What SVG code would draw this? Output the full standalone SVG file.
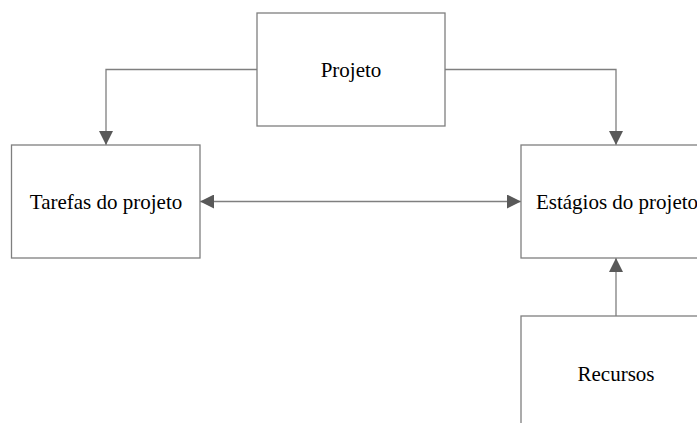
<svg xmlns="http://www.w3.org/2000/svg" width="697" height="423" viewBox="0 0 697 423">
  <style>
    .box { fill: #ffffff; stroke: #7f7f7f; stroke-width: 1.3; }
    .lbl { font-family: "Liberation Serif", "Times New Roman", serif; font-size: 21px; fill: #000000; text-anchor: middle; dominant-baseline: central; }
    .wire { fill: none; stroke: #7f7f7f; stroke-width: 1.3; }
  </style>
  <defs>
    <marker id="arrow" viewBox="0 0 14 14" refX="14" refY="7" markerWidth="14" markerHeight="14" markerUnits="userSpaceOnUse" orient="auto-start-reverse">
      <path d="M0,0 L14,7 L0,14 Z" fill="#595959"/>
    </marker>
  </defs>
  <rect width="697" height="423" fill="#ffffff"/>

  <g id="connectors">
    <path class="wire" d="M257,69.5 H106 V145" marker-end="url(#arrow)"/>
    <path class="wire" d="M445,69.5 H616 V145" marker-end="url(#arrow)"/>
    <path class="wire" d="M200,201.5 H521" marker-start="url(#arrow)" marker-end="url(#arrow)"/>
    <path class="wire" d="M616,316 V258" marker-end="url(#arrow)"/>
  </g>

  <g id="projeto">
    <rect class="box" x="257" y="13" width="188" height="113"/>
    <text class="lbl" x="351" y="70">Projeto</text>
  </g>
  <g id="tarefas">
    <rect class="box" x="11.5" y="145" width="188.5" height="113"/>
    <text class="lbl" x="106" y="202">Tarefas do projeto</text>
  </g>
  <g id="estagios">
    <rect class="box" x="521" y="145" width="190" height="113"/>
    <text class="lbl" x="617" y="202">Estágios do projeto</text>
  </g>
  <g id="recursos">
    <rect class="box" x="521" y="316" width="190" height="113"/>
    <text class="lbl" x="616" y="374">Recursos</text>
  </g>
</svg>
